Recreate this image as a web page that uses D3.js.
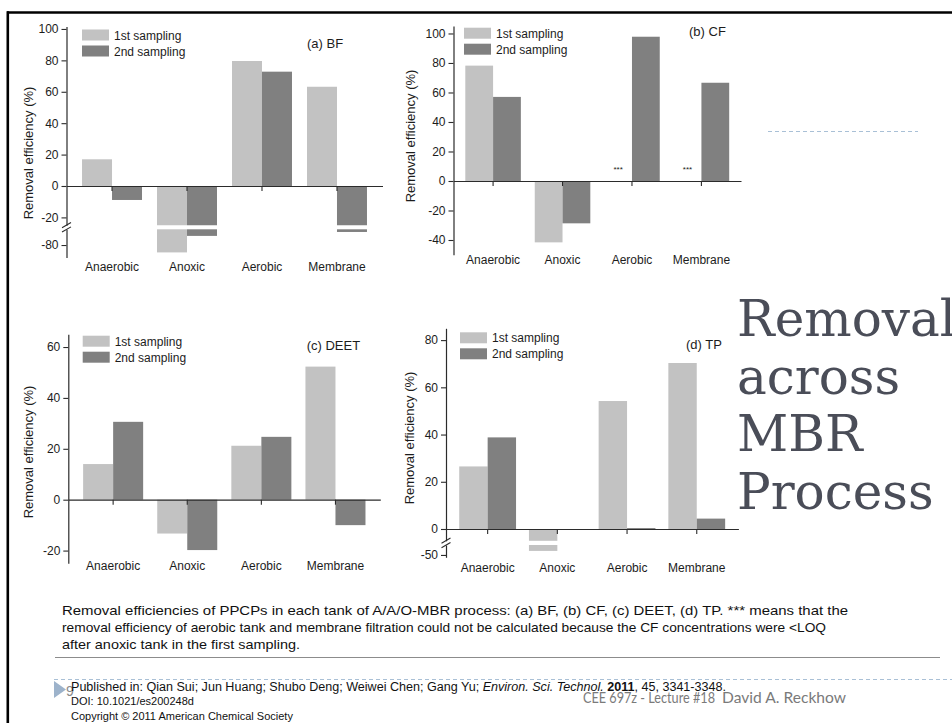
<!DOCTYPE html>
<html>
<head>
<meta charset="utf-8">
<script src="https://cdn.jsdelivr.net/npm/d3@7"></script>
<style>
  html, body { margin: 0; padding: 0; background: #fff; }
  svg { display: block; }
  text { font-family: "Liberation Sans", Arial, Helvetica, sans-serif; }
</style>
</head>
<body>
<svg id="slide" width="952" height="723"></svg>
<script>
// ---- data -------------------------------------------------------------
const categories = ["Anaerobic", "Anoxic", "Aerobic", "Membrane"];
const seriesNames = ["1st sampling", "2nd sampling"];

// removal efficiency (%) per tank
const bfFirst    = [17.0, -84.7, 79.6, 63.2];
const bfSecond   = [-8.9, -74.2, 72.8, -71.7];
const cfFirst    = [78.2, -41.6, null, null];   // null: < LOQ, shown as ***
const cfSecond   = [57.0, -28.7, 97.8, 66.6];
const deetFirst  = [14.0, -13.3, 21.2, 52.3];
const deetSecond = [30.6, -19.8, 24.7, -10.0];
const tpFirst    = [26.5, -48.3, 54.2, 70.3];
const tpSecond   = [38.8, -0.3, 0.4, 4.4];

// y tick labels
const bfTicksUpper   = [100, 80, 60, 40, 20, 0, -20];
const bfTicksLower   = [-80];
const cfTicks        = [100, 80, 60, 40, 20, 0, -20, -40];
const deetTicks      = [60, 40, 20, 0, -20];
const tpTicksUpper   = [80, 60, 40, 20, 0];
const tpTicksLower   = [-50];

const panelLabels = ["(a) BF", "(b) CF", "(c) DEET", "(d) TP"];
const yTitle = "Removal efficiency (%)";

const captionLines = [
  "Removal efficiencies of PPCPs in each tank of A/A/O-MBR process: (a) BF, (b) CF, (c) DEET, (d) TP. *** means that the",
  "removal efficiency of aerobic tank and membrane filtration could not be calculated because the CF concentrations were <LOQ",
  "after anoxic tank in the first sampling."
];
const slideTitle = ["Removal", "across", "MBR", "Process"];

// ---- drawing ----------------------------------------------------------
const svg = d3.select("#slide");
const colors = ["#c2c2c2", "#808080"];
const AXIS = "#2b2b2b";
const fmt = d => String(d);   // plain hyphen-minus tick labels

// slide frame
svg.append("line").attr("x1", 7).attr("x2", 952).attr("y1", 12.5).attr("y2", 12.5)
   .attr("stroke", "#000").attr("stroke-width", 2.6);
svg.append("line").attr("x1", 7.8).attr("x2", 7.8).attr("y1", 11.2).attr("y2", 723)
   .attr("stroke", "#000").attr("stroke-width", 2.6);

const panels = [
  { label: panelLabels[0], first: bfFirst, second: bfSecond,
    x0: 66.5, x1: 382.5, pi: 0.2, po: 0.207,
    upper: [-25, 101.5], upperRange: [225.25, 26.6], upperTicks: bfTicksUpper,
    lower: [-88, -70], lowerRange: [257.6, 229.3], lowerTicks: bfTicksLower,
    legX: 82, legY: 29.5, labX: 307, labY: 47.5, yTitleX: 28, yTitleY: 153, xLabY: 262.4 },
  { label: panelLabels[1], first: cfFirst, second: cfSecond,
    x0: 453.5, x1: 741, pi: 0.2, po: 0.17,
    upper: [-50, 105], upperRange: [254.75, 26.1], upperTicks: cfTicks,
    legX: 464, legY: 27.7, labX: 689, labY: 36, yTitleX: 410, yTitleY: 136, xLabY: 255.7,
    stars: true },
  { label: panelLabels[2], first: deetFirst, second: deetSecond,
    x0: 68.3, x1: 380.3, pi: 0.19, po: 0.2,
    upper: [-25, 65], upperRange: [563.3, 334.3], upperTicks: deetTicks,
    legX: 82.7, legY: 335.7, labX: 306.7, labY: 350, yTitleX: 28.3, yTitleY: 452, xLabY: 561.7 },
  { label: panelLabels[3], first: tpFirst, second: tpSecond,
    x0: 446, x1: 738.4, pi: 0.185, po: 0.19,
    upper: [-5, 85], upperRange: [540.8, 328.3], upperTicks: tpTicksUpper,
    lower: [-51, -45.8], lowerRange: [557.3, 545], lowerTicks: tpTicksLower,
    legX: 460, legY: 332.3, labX: 686, labY: 348.5, yTitleX: 409, yTitleY: 438, xLabY: 563 }
];

function styleAxis(g) {
  g.select(".domain").attr("stroke", AXIS).attr("stroke-width", 1.2);
  g.selectAll(".tick line").attr("stroke", AXIS).attr("stroke-width", 1.1);
  g.selectAll(".tick text").attr("fill", "#1c1c1c").style("font-size", "12px")
   .style("font-family", "'Liberation Sans', Arial, sans-serif");
}

function drawPanel(p) {
  const g = svg.append("g");
  const x = d3.scaleBand().domain(categories).range([p.x0, p.x1])
              .paddingInner(p.pi).paddingOuter(p.po);
  const xs = d3.scaleBand().domain([0, 1]).range([0, x.bandwidth()]);
  const yU = d3.scaleLinear().domain(p.upper).range(p.upperRange);
  const yL = p.lower ? d3.scaleLinear().domain(p.lower).range(p.lowerRange) : null;

  // split bars across the axis break where needed
  const segs = [];
  [p.first, p.second].forEach((vals, si) => {
    vals.forEach((v, i) => {
      if (v == null) return;
      const bx = x(categories[i]) + xs(si);
      if (!yL || v >= p.upper[0]) {
        segs.push({ si, bx, a: yU(0), b: yU(v) });
      } else {
        segs.push({ si, bx, a: yU(0), b: yU(p.upper[0]) });
        segs.push({ si, bx, a: yL(p.lower[1]), b: yL(v) });
      }
    });
  });
  g.append("g").selectAll("rect").data(segs).join("rect")
    .attr("x", d => d.bx)
    .attr("width", xs.bandwidth())
    .attr("y", d => Math.min(d.a, d.b))
    .attr("height", d => Math.max(0.8, Math.abs(d.b - d.a)))
    .attr("fill", d => colors[d.si]);

  // y axis (upper and, if broken, lower part)
  const ay = g.append("g").attr("transform", `translate(${p.x0},0)`)
    .call(d3.axisLeft(yU).tickValues(p.upperTicks).tickFormat(fmt)
            .tickSize(5).tickSizeOuter(0).tickPadding(3));
  styleAxis(ay);
  if (yL) {
    const al = g.append("g").attr("transform", `translate(${p.x0},0)`)
      .call(d3.axisLeft(yL).tickValues(p.lowerTicks).tickFormat(fmt)
              .tickSize(5).tickSizeOuter(0).tickPadding(3));
    styleAxis(al);
    // break marks
    const yc = (p.upperRange[0] + p.lowerRange[1]) / 2;
    [-2.2, 2.2].forEach(off => {
      g.append("line")
        .attr("x1", p.x0 - 4.5).attr("y1", yc + off + 2.6)
        .attr("x2", p.x0 + 4.5).attr("y2", yc + off - 2.6)
        .attr("stroke", AXIS).attr("stroke-width", 1.1);
    });
  }

  // zero line with category ticks
  const az = g.append("g").attr("transform", `translate(0,${yU(0)})`)
    .call(d3.axisBottom(x).tickSize(5).tickSizeOuter(0).tickFormat(""));
  styleAxis(az);

  // category names along the bottom
  const ax = g.append("g").attr("transform", `translate(0,${p.xLabY})`)
    .call(d3.axisBottom(x).tickSize(0).tickPadding(0));
  ax.select(".domain").remove();
  ax.selectAll(".tick text").attr("fill", "#1c1c1c").style("font-size", "12px");

  // "***" where the value could not be calculated
  if (p.stars) {
    p.first.forEach((v, i) => {
      if (v != null) return;
      g.append("text")
        .attr("x", x(categories[i]) + xs(0) + xs.bandwidth() / 2)
        .attr("y", yU(0) - 9)
        .attr("text-anchor", "middle")
        .style("font-size", "8px").attr("fill", "#222")
        .text("***");
    });
  }

  // y title
  g.append("text")
    .attr("transform", `translate(${p.yTitleX},${p.yTitleY}) rotate(-90)`)
    .attr("text-anchor", "middle").attr("dominant-baseline", "central")
    .style("font-size", "13px").attr("fill", "#1c1c1c")
    .text(yTitle);

  // legend
  const lg = g.append("g").attr("transform", `translate(${p.legX},${p.legY})`);
  seriesNames.forEach((name, i) => {
    lg.append("rect").attr("x", 0).attr("y", i * 16).attr("width", 27).attr("height", 11)
      .attr("fill", colors[i]);
    lg.append("text").attr("x", 32).attr("y", i * 16 + 10)
      .style("font-size", "12px").attr("fill", "#1c1c1c").text(name);
  });

  // panel label
  g.append("text").attr("x", p.labX).attr("y", p.labY)
    .style("font-size", "13px").attr("fill", "#1c1c1c").text(p.label);
}

panels.forEach(drawPanel);

// dashed rule on the right
svg.append("line").attr("x1", 768).attr("x2", 918).attr("y1", 131.5).attr("y2", 131.5)
   .attr("stroke", "#a9c0d6").attr("stroke-width", 1).attr("stroke-dasharray", "4,3");

// slide title
const tt = svg.append("text")
  .style("font-family", "'DejaVu Serif', 'Liberation Serif', serif")
  .style("font-size", "50px").attr("fill", "#4a4d58");
slideTitle.forEach((w, i) => {
  tt.append("tspan").attr("x", 737).attr("y", 336 + i * 57.5).text(w);
});

// caption
const cap = svg.append("g");
const capWidths = [786, 764, 238];
captionLines.forEach((line, i) => {
  cap.append("text").attr("x", 62).attr("y", 614.5 + i * 17)
    .attr("textLength", capWidths[i]).attr("lengthAdjust", "spacingAndGlyphs")
    .style("font-size", "13px").attr("fill", "#111").text(line);
});
svg.append("line").attr("x1", 55).attr("x2", 940).attr("y1", 657.5).attr("y2", 657.5)
   .attr("stroke", "#8c8c8c").attr("stroke-width", 1.2);

// footer
svg.append("line").attr("x1", 54).attr("x2", 952).attr("y1", 679.5).attr("y2", 679.5)
   .attr("stroke", "#a9c0d6").attr("stroke-width", 1).attr("stroke-dasharray", "4,3");
svg.append("path").attr("d", "M54,681 L66,689.5 L54,698 Z").attr("fill", "#9db3cb");
svg.append("text").attr("x", 66).attr("y", 696).style("font-size", "14px")
   .attr("fill", "#8a8a8a").text("9");

const pub = svg.append("text").attr("x", 71).attr("y", 691)
  .attr("textLength", 655).attr("lengthAdjust", "spacingAndGlyphs")
  .style("font-size", "12px").attr("fill", "#111");
pub.append("tspan").text("Published in: Qian Sui; Jun Huang; Shubo Deng; Weiwei Chen; Gang Yu; ");
pub.append("tspan").style("font-style", "italic").text("Environ. Sci. Technol.");
pub.append("tspan").text(" ");
pub.append("tspan").style("font-weight", "bold").text("2011");
pub.append("tspan").text(", 45, 3341-3348.");
svg.append("text").attr("x", 71).attr("y", 705).style("font-size", "11px")
   .attr("fill", "#111").text("DOI: 10.1021/es200248d");
svg.append("text").attr("x", 71).attr("y", 720).style("font-size", "11px")
   .attr("fill", "#111").text("Copyright \u00a9 2011 American Chemical Society");

// lecture footer
const lecFont = "Lato, 'Open Sans', sans-serif";
svg.append("text").attr("x", 583).attr("y", 703)
   .attr("textLength", 132).attr("lengthAdjust", "spacingAndGlyphs")
   .style("font-family", lecFont).style("font-size", "16px").attr("fill", "#7a7a7a")
   .text("CEE 697z - Lecture #18");
svg.append("text").attr("x", 722).attr("y", 703)
   .attr("textLength", 124).attr("lengthAdjust", "spacingAndGlyphs")
   .style("font-family", lecFont).style("font-size", "16px").attr("fill", "#7a7a7a")
   .text("David A. Reckhow");
</script>
</body>
</html>
